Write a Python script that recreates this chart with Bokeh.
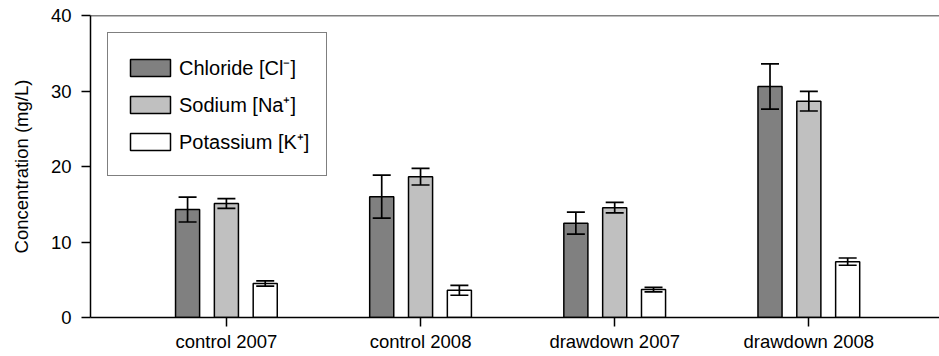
from bokeh.plotting import figure
from bokeh.models import (ColumnDataSource, FixedTicker, Whisker, TeeHead, Legend,
                          LegendItem, Span, Range1d)
from bokeh.embed import file_html
from bokeh.resources import INLINE

categories = ["control 2007", "control 2008", "drawdown 2007", "drawdown 2008"]
series_names = ["Chloride [Cl\u207b]", "Sodium [Na\u207a]", "Potassium [K\u207a]"]
chloride = [14.3, 16.0, 12.5, 30.6]
chloride_err = [1.65, 2.85, 1.45, 3.0]
sodium = [15.1, 18.65, 14.55, 28.65]
sodium_err = [0.65, 1.1, 0.7, 1.3]
potassium = [4.5, 3.6, 3.7, 7.4]
potassium_err = [0.35, 0.65, 0.3, 0.48]
y_ticks = [0, 10, 20, 30, 40]

FONT = "Liberation Sans"
FS = "18.5px"

p = figure(width=939, height=356, output_backend="svg", toolbar_location=None,
           x_range=Range1d(-0.7, 3.673), y_range=Range1d(0, 40),
           min_border_left=90, min_border_right=0, min_border_top=15, min_border_bottom=39)
p.outline_line_color = None
p.xgrid.visible = False
p.ygrid.visible = False
p.background_fill_color = "white"
p.border_fill_color = "white"

series = [
    (chloride, chloride_err, "#808080", -0.2),
    (sodium, sodium_err, "#c0c0c0", 0.0),
    (potassium, potassium_err, "#ffffff", 0.2),
]

items = []
for (vals, errs, color, off), name in zip(series, series_names):
    xs = [i + off for i in range(len(categories))]
    src = ColumnDataSource(dict(
        x=xs, top=vals,
        upper=[v + e for v, e in zip(vals, errs)],
        lower=[v - e for v, e in zip(vals, errs)],
    ))
    r = p.vbar(x="x", top="top", bottom=0, width=0.124, source=src,
               fill_color=color, line_color="black", line_width=1.5)
    w = Whisker(source=src, base="x", upper="upper", lower="lower", level="overlay",
                line_color="black", line_width=1.7,
                upper_head=TeeHead(size=18, line_color="black", line_width=1.7),
                lower_head=TeeHead(size=18, line_color="black", line_width=1.7))
    p.add_layout(w)
    items.append(LegendItem(label=name, renderers=[r]))

legend = Legend(items=items, location="top_left", margin=17, padding=17,
                glyph_width=50, glyph_height=21, label_height=34, spacing=3,
                label_standoff=4, label_text_font=FONT, label_text_font_size="20px",
                label_text_color="black",
                border_line_color="black", border_line_width=1.5,
                background_fill_color="white", background_fill_alpha=1.0)
p.add_layout(legend)

p.add_layout(Span(location=40, dimension="width", line_color="black", line_width=1.5))

# x axis
p.xaxis.ticker = FixedTicker(ticks=list(range(len(categories))))
p.xaxis.major_label_overrides = {i: c for i, c in enumerate(categories)}
p.xaxis.minor_tick_line_color = None
p.xaxis.major_tick_in = 0
p.xaxis.major_tick_out = 9
p.xaxis.major_label_standoff = 4
# y axis
p.yaxis.ticker = FixedTicker(ticks=y_ticks)
p.yaxis.minor_tick_line_color = None
p.yaxis.major_tick_in = 0
p.yaxis.major_tick_out = 9
p.yaxis.major_label_standoff = 10
p.yaxis.axis_label = "Concentration (mg/L)"
p.yaxis.axis_label_standoff = 16
p.yaxis.axis_label_text_font_style = "normal"

for ax in (p.xaxis[0], p.yaxis[0]):
    ax.axis_line_color = "black"
    ax.axis_line_width = 1.5
    ax.major_tick_line_color = "black"
    ax.major_tick_line_width = 1.5
    ax.major_label_text_font = FONT
    ax.major_label_text_font_size = FS
    ax.major_label_text_color = "black"
    ax.axis_label_text_font = FONT
    ax.axis_label_text_font_size = FS
    ax.axis_label_text_color = "black"

open("out.html", "w").write(file_html(p, INLINE))
